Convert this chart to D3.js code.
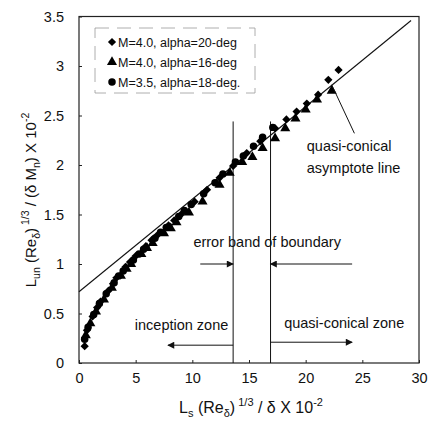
<!DOCTYPE html>
<html>
<head>
<meta charset="utf-8">
<script src="https://cdn.jsdelivr.net/npm/d3@7"></script>
<style>
  body { margin: 0; background: #fff; }
  text { font-family: "Liberation Sans", Arial, sans-serif; fill: #111; }
</style>
</head>
<body>
<div id="chart"></div>
<script>
// series: M=4.0, alpha=20-deg (diamonds)
var diamondPts = [
    [0.5, 0.17], [0.7, 0.33], [1.2, 0.47], [1.6, 0.56], [1.9, 0.62], [2.6, 0.73], [3.0, 0.80],
    [3.3, 0.86], [4.1, 0.97], [4.5, 1.02], [5.0, 1.08], [5.9, 1.18], [6.4, 1.24], [6.9, 1.29],
    [7.9, 1.39], [8.4, 1.44], [9.0, 1.50], [10.2, 1.63], [11.3, 1.75], [12.4, 1.87],
    [13.6, 1.99], [14.8, 2.12], [16.0, 2.24], [17.3, 2.37], [18.3, 2.46], [19.2, 2.54],
    [20.1, 2.62], [21.1, 2.71], [22.0, 2.86], [22.9, 2.96]
];
// series: M=4.0, alpha=16-deg (triangles)
var trianglePts = [
    [0.6, 0.28], [1.0, 0.40], [1.5, 0.52], [2.2, 0.64], [2.9, 0.76], [3.7, 0.88],
    [4.2, 0.95], [4.6, 1.00], [5.5, 1.10], [6.0, 1.16], [6.5, 1.21], [7.5, 1.31], [8.1, 1.36],
    [8.6, 1.42], [9.7, 1.52], [10.9, 1.63], [12.4, 1.80], [13.3, 1.92], [14.4, 2.03],
    [15.3, 2.08], [16.2, 2.17], [17.3, 2.27], [18.2, 2.37], [19.1, 2.47], [20.0, 2.56],
    [21.0, 2.66], [22.3, 2.75]
];
// series: M=3.5, alpha=18-deg (circles)
var circlePts = [
    [0.5, 0.24], [0.8, 0.36], [1.3, 0.49], [1.8, 0.60], [2.4, 0.70], [3.1, 0.81],
    [3.5, 0.88], [3.9, 0.93], [4.8, 1.04], [5.3, 1.10], [5.7, 1.15], [6.7, 1.26], [7.2, 1.32],
    [7.7, 1.37], [8.8, 1.48], [9.3, 1.54], [9.9, 1.60], [11.0, 1.71], [12.0, 1.82],
    [12.7, 1.91], [13.8, 2.03], [14.5, 2.09], [15.4, 2.19], [16.2, 2.28], [17.1, 2.38]
];
// quasi-conical asymptote line end points
var asymptote = [[0, 0.72], [29.3, 3.46]];
// boundary (error band) x positions
var boundaries = [13.6, 16.9];
var boundaryTop = 2.44;

var xTicks = [0, 5, 10, 15, 20, 25, 30];
var yTicks = [0, 0.5, 1, 1.5, 2, 2.5, 3, 3.5];
var legendLabels = ["M=4.0, alpha=20-deg", "M=4.0, alpha=16-deg", "M=3.5, alpha=18-deg."];

var W = 429, H = 423;
var margin = { top: 16.5, right: 10, bottom: 60, left: 79 },
    width = 340,
    height = 346.5;

var svg = d3.select("#chart").append("svg")
    .attr("width", W).attr("height", H);

var g = svg.append("g")
    .attr("transform", "translate(" + margin.left + "," + margin.top + ")");

var x = d3.scaleLinear().domain([0, 30]).range([0, width]);
var y = d3.scaleLinear().domain([0, 3.5]).range([height, 0]);

// arrowhead
svg.append("defs").append("marker")
    .attr("id", "arrow")
    .attr("viewBox", "0 0 10 10")
    .attr("refX", 9).attr("refY", 5)
    .attr("markerWidth", 9).attr("markerHeight", 7)
    .attr("markerUnits", "userSpaceOnUse")
    .attr("orient", "auto")
    .append("path")
    .attr("d", "M0,0 L10,5 L0,10 Z")
    .attr("fill", "#111");

// frame
g.append("rect")
    .attr("width", width).attr("height", height)
    .attr("fill", "none").attr("stroke", "#222").attr("stroke-width", 1.2);

// axes
var xAxis = d3.axisBottom(x).tickValues(xTicks).tickSizeInner(-3).tickSizeOuter(0).tickPadding(10)
    .tickFormat(d3.format("d"));
var yAxis = d3.axisLeft(y).tickValues(yTicks).tickSizeInner(-3).tickSizeOuter(0).tickPadding(15)
    .tickFormat(function (d) { return d; });

var gx = g.append("g").attr("transform", "translate(0," + height + ")").call(xAxis);
var gy = g.append("g").call(yAxis);
[gx, gy].forEach(function (a) {
    a.select(".domain").remove();
    a.selectAll("line").attr("stroke", "#222");
    a.selectAll("text")
        .style("font-family", "Liberation Sans, Arial, sans-serif")
        .style("font-size", "14.5px").attr("fill", "#111");
});

// asymptote line
g.append("line")
    .attr("x1", x(asymptote[0][0])).attr("y1", y(asymptote[0][1]))
    .attr("x2", x(asymptote[1][0])).attr("y2", y(asymptote[1][1]))
    .attr("stroke", "#111").attr("stroke-width", 1.1);

// boundary lines
g.selectAll(".bnd").data(boundaries).enter().append("line")
    .attr("x1", function (d) { return x(d); }).attr("x2", function (d) { return x(d); })
    .attr("y1", y(boundaryTop)).attr("y2", y(0))
    .attr("stroke", "#111").attr("stroke-width", 1);

// markers
var sym = {
    diamond: d3.symbol().type(d3.symbolSquare).size(34),
    triangle: d3.symbol().type(d3.symbolTriangle).size(44),
    circle: d3.symbol().type(d3.symbolCircle).size(44)
};
var rot = { diamond: 45, triangle: 0, circle: 0 };
function drawSeries(data, key) {
    g.append("g").selectAll("path").data(data).enter().append("path")
        .attr("d", sym[key])
        .attr("transform", function (d) {
            return "translate(" + x(d[0]) + "," + y(d[1]) + ") rotate(" + rot[key] + ")";
        })
        .attr("fill", "#000");
}
drawSeries(circlePts, "circle");
drawSeries(trianglePts, "triangle");
drawSeries(diamondPts, "diamond");

// legend
var leg = g.append("g").attr("transform", "translate(16,11.5)");
leg.append("rect")
    .attr("width", 160).attr("height", 65)
    .attr("fill", "#fff").attr("stroke", "#999").attr("stroke-width", 0.8)
    .attr("stroke-dasharray", "14,8");
var legKeys = ["diamond", "triangle", "circle"];
legendLabels.forEach(function (t, i) {
    var yy = 14 + i * 20;
    leg.append("path").attr("d", sym[legKeys[i]])
        .attr("transform", "translate(17," + yy + ") rotate(" + rot[legKeys[i]] + ")")
        .attr("fill", "#000");
    leg.append("text").attr("x", 23).attr("y", yy + 4.5)
        .style("font-size", "12.5px").text(t);
});

// annotations
function note(tx, ty, str, anchor) {
    return g.append("text").attr("x", x(tx)).attr("y", y(ty))
        .attr("text-anchor", anchor || "start")
        .style("font-size", "14.5px").text(str);
}
function arrow(x1, y1, x2, y2) {
    g.append("line")
        .attr("x1", x(x1)).attr("y1", y(y1)).attr("x2", x(x2)).attr("y2", y(y2))
        .attr("stroke", "#111").attr("stroke-width", 1)
        .attr("marker-end", "url(#arrow)");
}

note(16.6, 1.17, "error band of boundary", "middle");
arrow(10.7, 1.0, 13.6, 1.0);
arrow(24.1, 1.0, 16.9, 1.0);

note(9.05, 0.33, "inception zone", "middle");
arrow(13.6, 0.18, 7.85, 0.18);

note(23.4, 0.35, "quasi-conical zone", "middle");
arrow(16.9, 0.21, 24.1, 0.21);

note(20.1, 2.14, "quasi-conical");
note(20.1, 1.92, "asymptote line");
g.append("line")
    .attr("x1", x(22.3)).attr("y1", y(2.81)).attr("x2", x(24.3)).attr("y2", y(2.32))
    .attr("stroke", "#111").attr("stroke-width", 1);

// axis titles
var xt = svg.append("text")
    .attr("x", 251).attr("y", 413)
    .attr("text-anchor", "middle")
    .style("font-size", "16px");
xt.append("tspan").text("L");
xt.append("tspan").attr("dy", 4).style("font-size", "11px").text("s");
xt.append("tspan").attr("dy", -4).text(" (Re");
xt.append("tspan").attr("dy", 4).style("font-size", "11px").text("δ");
xt.append("tspan").attr("dy", -4).text(")");
xt.append("tspan").attr("dy", -7).style("font-size", "11px").text(" 1/3");
xt.append("tspan").attr("dy", 7).text("  / δ  X 10");
xt.append("tspan").attr("dy", -7).style("font-size", "11px").text("-2");

var yt = svg.append("text")
    .attr("transform", "translate(36,200) rotate(-90)")
    .attr("text-anchor", "middle")
    .style("font-size", "15px");
yt.append("tspan").text("L");
yt.append("tspan").attr("dy", 4).style("font-size", "10.5px").text("un");
yt.append("tspan").attr("dy", -4).text(" (Re");
yt.append("tspan").attr("dy", 4).style("font-size", "10.5px").text("δ");
yt.append("tspan").attr("dy", -4).text(")");
yt.append("tspan").attr("dy", -7).style("font-size", "10.5px").text(" 1/3");
yt.append("tspan").attr("dy", 7).text("  / (δ M");
yt.append("tspan").attr("dy", 4).style("font-size", "10.5px").text("n");
yt.append("tspan").attr("dy", -4).text(") X 10");
yt.append("tspan").attr("dy", -7).style("font-size", "10.5px").text("-2");
</script>
</body>
</html>
